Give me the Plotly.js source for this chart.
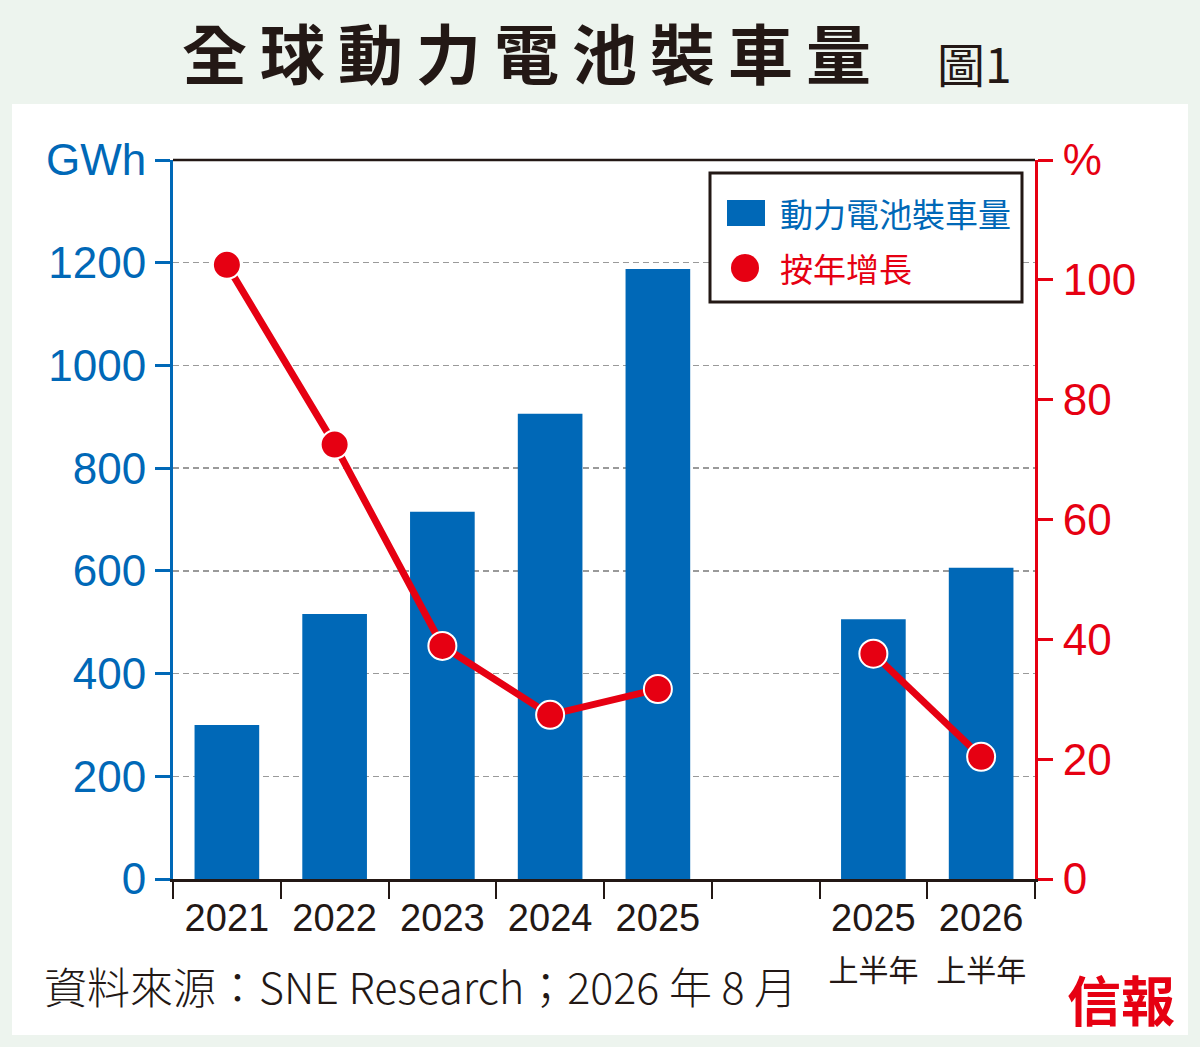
<!DOCTYPE html>
<html>
<head>
<meta charset="utf-8">
<script src="https://cdn.plot.ly/plotly-3.0.1.min.js"></script>
<style>html,body{margin:0;padding:0;background:#edf4ee;}</style>
</head>
<body>
<div id="chart" style="width:1200px;height:1047px;"></div>
<script>
// ---- data ----
var categories = ['2021', '2022', '2023', '2024', '2025', '\u00a0',
  '2025<br><span style="font-size:30px">上半年</span>',
  '2026<br><span style="font-size:30px">上半年</span>'];
var installVolume = [300, 516, 715, 906, 1188, null, 506, 606];   // GWh
var yoyGrowth = [102.5, 72.5, 38.9, 27.4, 31.7, null, 37.6, 20.4]; // %
var leftTickVals = [0, 200, 400, 600, 800, 1000, 1200, 1400];
var leftTickText = ['0', '200', '400', '600', '800', '1000', '1200', 'GWh'];
var rightTickVals = [0, 20, 40, 60, 80, 100, 120];
var rightTickText = ['0', '20', '40', '60', '80', '100', '%'];

var BLUE = '#0068b7', RED = '#e60012', INK = '#231815';
var L = 173, R = 1035, T = 160, B = 879;
function px(x) { return (x - L) / (R - L); }
function py(y) { return (B - y) / (B - T); }

var traces = [
  {
    type: 'bar', x: categories, y: installVolume, name: '動力電池裝車量',
    marker: {color: BLUE, line: {width: 0}}, yaxis: 'y', hoverinfo: 'skip'
  },
  {
    type: 'scatter', mode: 'lines+markers', x: categories, y: yoyGrowth, name: '按年增長',
    yaxis: 'y2', connectgaps: false,
    line: {color: RED, width: 7},
    marker: {color: RED, size: 28, line: {color: '#ffffff', width: 2}},
    hoverinfo: 'skip'
  }
];

var layout = {
  width: 1200, height: 1047,
  margin: {l: L, r: 1200 - R, t: T, b: 1047 - B, pad: 0},
  paper_bgcolor: '#edf4ee',
  plot_bgcolor: '#ffffff',
  showlegend: false,
  bargap: 0.4,
  font: {family: 'Liberation Sans, Arial, sans-serif', color: INK},
  xaxis: {
    type: 'category', categoryorder: 'array', categoryarray: categories,
    range: [-0.5, 7.5], fixedrange: true,
    showgrid: false, zeroline: false,
    showline: true, linecolor: INK, linewidth: 2.5,
    ticks: 'outside', tickson: 'boundaries', ticklen: 17, tickwidth: 2, tickcolor: INK,
    tickangle: 0,
    tickfont: {family: 'Liberation Sans, Noto Sans CJK TC, sans-serif', size: 38, color: INK},
    ticklabelstandoff: 4
  },
  yaxis: {
    range: [0, 1400], tickvals: leftTickVals, ticktext: leftTickText,
    showgrid: true, gridcolor: '#9a9a9a', gridwidth: 1.5, griddash: '6px,4px',
    zeroline: false, showline: true, linecolor: BLUE, linewidth: 3,
    ticks: 'outside', ticklen: 15, tickwidth: 3, tickcolor: BLUE,
    tickfont: {family: 'Liberation Sans, Arial, sans-serif', size: 44, color: BLUE},
    ticklabelstandoff: 0
  },
  yaxis2: {
    overlaying: 'y', side: 'right', anchor: 'x',
    range: [0, 120], tickvals: rightTickVals, ticktext: rightTickText,
    showgrid: false, zeroline: false, showline: true, linecolor: RED, linewidth: 3,
    ticks: 'outside', ticklen: 15, tickwidth: 3, tickcolor: RED,
    tickfont: {family: 'Liberation Sans, Arial, sans-serif', size: 44, color: RED},
    ticklabelstandoff: 1
  },
  shapes: [
    // white panel
    {type: 'rect', xref: 'paper', yref: 'paper', layer: 'below',
     x0: px(12), x1: px(1188), y0: py(1035), y1: py(104),
     fillcolor: '#ffffff', line: {width: 0}},
    // top border
    {type: 'line', xref: 'paper', yref: 'paper', x0: 0, x1: 1, y0: 1, y1: 1,
     line: {color: INK, width: 2.5}},
    // legend box
    {type: 'rect', xref: 'paper', yref: 'paper',
     x0: px(710), x1: px(1022), y0: py(302), y1: py(173),
     fillcolor: '#ffffff', line: {color: INK, width: 3}},
    {type: 'rect', xref: 'paper', yref: 'paper',
     x0: px(727), x1: px(765), y0: py(226), y1: py(200),
     fillcolor: BLUE, line: {width: 0}},
    {type: 'circle', xref: 'paper', yref: 'paper',
     x0: px(731), x1: px(759), y0: py(282), y1: py(254),
     fillcolor: RED, line: {width: 0}}
  ],
  annotations: [
    {xref: 'paper', yref: 'paper', x: px(533), y: py(51), xanchor: 'center', yanchor: 'middle',
     text: '<b><span style="letter-spacing:13px">全球動力電池裝車量</span></b>', showarrow: false,
     font: {family: 'Noto Sans CJK TC, sans-serif', size: 65, color: INK}},
    {xref: 'paper', yref: 'paper', x: px(974), y: py(62), xanchor: 'center', yanchor: 'middle',
     text: '圖1', showarrow: false,
     font: {family: 'Noto Sans CJK TC, sans-serif', size: 48, color: INK}},
    {xref: 'paper', yref: 'paper', x: px(778), y: py(213), xanchor: 'left', yanchor: 'middle',
     text: '動力電池裝車量', showarrow: false,
     font: {family: 'Noto Sans CJK TC, sans-serif', size: 33, color: BLUE}},
    {xref: 'paper', yref: 'paper', x: px(778), y: py(268), xanchor: 'left', yanchor: 'middle',
     text: '按年增長', showarrow: false,
     font: {family: 'Noto Sans CJK TC, sans-serif', size: 33, color: RED}},
    {xref: 'paper', yref: 'paper', x: px(42), y: py(985), xanchor: 'left', yanchor: 'middle',
     text: '資料來源：SNE Research；2026 年 8 月', showarrow: false,
     font: {family: 'Noto Sans CJK TC, sans-serif', size: 43, color: INK, weight: 300}},
    {xref: 'paper', yref: 'paper', x: px(1121), y: py(998), xanchor: 'center', yanchor: 'middle',
     text: '<b>信報</b>', showarrow: false,
     font: {family: 'Noto Sans CJK TC, sans-serif', size: 54, color: RED}}
  ]
};

Plotly.newPlot('chart', traces, layout, {displayModeBar: false, staticPlot: true});
</script>
</body>
</html>
